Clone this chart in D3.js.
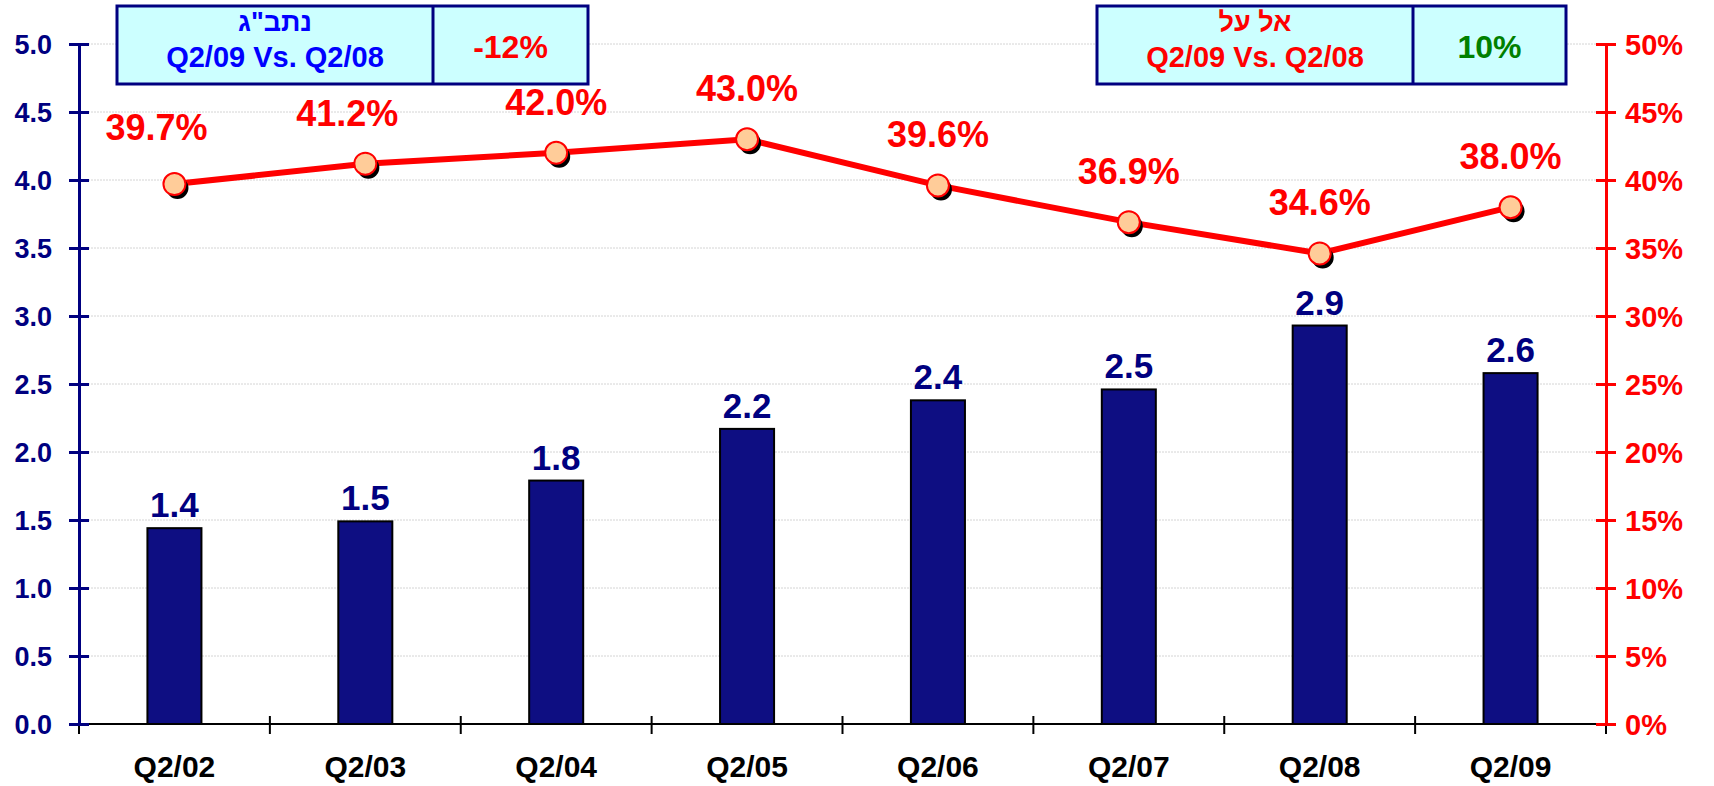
<!DOCTYPE html>
<html>
<head>
<meta charset="utf-8">
<script src="https://cdn.jsdelivr.net/npm/d3@7"></script>
<style>
  body { margin: 0; background: #fff; }
  text { font-family: "Liberation Sans", Arial, sans-serif; font-weight: bold; }
</style>
</head>
<body>
<div id="chart"></div>
<script>
// data
var categories = ["Q2/02", "Q2/03", "Q2/04", "Q2/05", "Q2/06", "Q2/07", "Q2/08", "Q2/09"];
var volumes = [1.44, 1.49, 1.79, 2.17, 2.38, 2.46, 2.93, 2.58];
var shares = [39.7, 41.2, 42.0, 43.0, 39.6, 36.9, 34.6, 38.0];
var leftTicks = [0, 0.5, 1, 1.5, 2, 2.5, 3, 3.5, 4, 4.5, 5];
var rightTicks = [0, 5, 10, 15, 20, 25, 30, 35, 40, 45, 50];

// the two comparison boxes
var boxTitles = ['נתב"ג', "אל על"];
var boxPeriods = ["Q2/09 Vs. Q2/08", "Q2/09 Vs. Q2/08"];
var boxChanges = ["-12%", "10%"];

var W = 1714, H = 786;
var plotLeft = 79, plotRight = 1606, plotTop = 44, plotBottom = 724;

var svg = d3.select("#chart").append("svg")
  .attr("width", W)
  .attr("height", H);

var x = d3.scaleBand()
  .domain(categories)
  .range([plotLeft, plotRight])
  .paddingInner(0.717)
  .paddingOuter(0.3585);
var step = x.step();

var yL = d3.scaleLinear().domain([0, 5]).range([plotBottom, plotTop]);
var yR = d3.scaleLinear().domain([0, 50]).range([plotBottom, plotTop]);

// grid
svg.append("g").selectAll("line")
  .data(leftTicks.slice(1))
  .enter().append("line")
  .attr("x1", plotLeft).attr("x2", plotRight)
  .attr("y1", function(d) { return yL(d); })
  .attr("y2", function(d) { return yL(d); })
  .attr("stroke", "#d4d4d4")
  .attr("stroke-width", 1)
  .attr("stroke-dasharray", "2,1");

// bars
svg.append("g").selectAll("rect")
  .data(volumes)
  .enter().append("rect")
  .attr("x", function(d, i) { return x(categories[i]); })
  .attr("y", function(d) { return yL(d); })
  .attr("width", x.bandwidth())
  .attr("height", function(d) { return plotBottom - yL(d); })
  .attr("fill", "#0e0e82")
  .attr("stroke", "#000")
  .attr("stroke-width", 2);

// bar labels
svg.append("g").selectAll("text")
  .data(volumes)
  .enter().append("text")
  .attr("x", function(d, i) { return x(categories[i]) + x.bandwidth() / 2; })
  .attr("y", function(d) { return yL(d) - 11; })
  .attr("text-anchor", "middle")
  .attr("font-size", 35)
  .attr("fill", "#000080")
  .text(function(d) { return d3.format(".1f")(d); });

// x axis
svg.append("line")
  .attr("x1", plotLeft).attr("x2", plotRight)
  .attr("y1", plotBottom).attr("y2", plotBottom)
  .attr("stroke", "#000").attr("stroke-width", 2);
svg.append("g").selectAll("line")
  .data(d3.range(categories.length + 1))
  .enter().append("line")
  .attr("x1", function(i) { return plotLeft + i * step; })
  .attr("x2", function(i) { return plotLeft + i * step; })
  .attr("y1", plotBottom - 8).attr("y2", plotBottom + 10)
  .attr("stroke", "#000").attr("stroke-width", 2);
svg.append("g").selectAll("text")
  .data(categories)
  .enter().append("text")
  .attr("x", function(d) { return x(d) + x.bandwidth() / 2; })
  .attr("y", 777)
  .attr("text-anchor", "middle")
  .attr("font-size", 30)
  .attr("fill", "#000")
  .text(function(d) { return d; });

// left axis
var gL = svg.append("g")
  .attr("transform", "translate(" + plotLeft + ",0)")
  .call(d3.axisLeft(yL).tickValues(leftTicks).tickFormat(d3.format(".1f")).tickSize(10).tickPadding(17));
gL.select(".domain").attr("stroke", "#000080").attr("stroke-width", 3);
gL.selectAll(".tick line").attr("x1", 10).attr("stroke", "#000080").attr("stroke-width", 3);
gL.selectAll(".tick text").attr("font-size", 27).attr("fill", "#000080")
  .attr("font-family", "Liberation Sans, Arial, sans-serif").attr("dy", "0.36em");

// right axis
var gR = svg.append("g")
  .attr("transform", "translate(" + plotRight + ",0)")
  .call(d3.axisRight(yR).tickValues(rightTicks).tickFormat(function(d) { return d + "%"; }).tickSize(10).tickPadding(9));
gR.select(".domain").attr("stroke", "#ff0000").attr("stroke-width", 3);
gR.selectAll(".tick line").attr("x1", -10).attr("stroke", "#ff0000").attr("stroke-width", 3);
gR.selectAll(".tick text").attr("font-size", 29).attr("fill", "#ff0000")
  .attr("font-family", "Liberation Sans, Arial, sans-serif").attr("dy", "0.36em");

// share line
var cx = function(d, i) { return x(categories[i]) + x.bandwidth() / 2; };
var line = d3.line()
  .x(cx)
  .y(function(d) { return yR(d); });
svg.append("path")
  .datum(shares)
  .attr("d", line)
  .attr("fill", "none")
  .attr("stroke", "#ff0000")
  .attr("stroke-width", 6);

svg.append("g").selectAll("circle")
  .data(shares)
  .enter().append("circle")
  .attr("cx", function(d, i) { return cx(d, i) + 3; })
  .attr("cy", function(d) { return yR(d) + 4; })
  .attr("r", 11)
  .attr("fill", "#000");
svg.append("g").selectAll("circle")
  .data(shares)
  .enter().append("circle")
  .attr("cx", cx)
  .attr("cy", function(d) { return yR(d); })
  .attr("r", 11)
  .attr("fill", "#ffcc99")
  .attr("stroke", "#ff0000")
  .attr("stroke-width", 2);

// first two labels sit a little left (and the first a bit higher) to clear the box
svg.append("g").selectAll("text")
  .data(shares)
  .enter().append("text")
  .attr("x", function(d, i) { return cx(d, i) - (i < 2 ? 18 : 0); })
  .attr("y", function(d, i) { return yR(d) - 38 - (i === 0 ? 6 : 0); })
  .attr("text-anchor", "middle")
  .attr("font-size", 36)
  .attr("fill", "#ff0000")
  .text(function(d) { return d3.format(".1f")(d) + "%"; });

// comparison boxes
var boxX = [117, 1097], boxMid = [433, 1413], boxEnd = [588, 1566];
var boxTextColor = ["#0000ff", "#ff0000"], changeColor = ["#ff0000", "#008000"];
boxTitles.forEach(function(t, i) {
  var g = svg.append("g");
  g.append("rect")
    .attr("x", boxX[i]).attr("y", 6)
    .attr("width", boxEnd[i] - boxX[i]).attr("height", 78)
    .attr("fill", "#ccffff")
    .attr("stroke", "#000080").attr("stroke-width", 3);
  g.append("line")
    .attr("x1", boxMid[i]).attr("x2", boxMid[i])
    .attr("y1", 6).attr("y2", 84)
    .attr("stroke", "#000080").attr("stroke-width", 3);
  var c = (boxX[i] + boxMid[i]) / 2;
  g.append("text")
    .attr("x", c).attr("y", 31)
    .attr("text-anchor", "middle")
    .attr("font-size", 27)
    .attr("fill", boxTextColor[i])
    .text(t);
  g.append("text")
    .attr("x", c).attr("y", 67)
    .attr("text-anchor", "middle")
    .attr("font-size", 29)
    .attr("fill", boxTextColor[i])
    .text(boxPeriods[i]);
  g.append("text")
    .attr("x", (boxMid[i] + boxEnd[i]) / 2).attr("y", 58)
    .attr("text-anchor", "middle")
    .attr("font-size", 32)
    .attr("fill", changeColor[i])
    .text(boxChanges[i]);
});
</script>
</body>
</html>
